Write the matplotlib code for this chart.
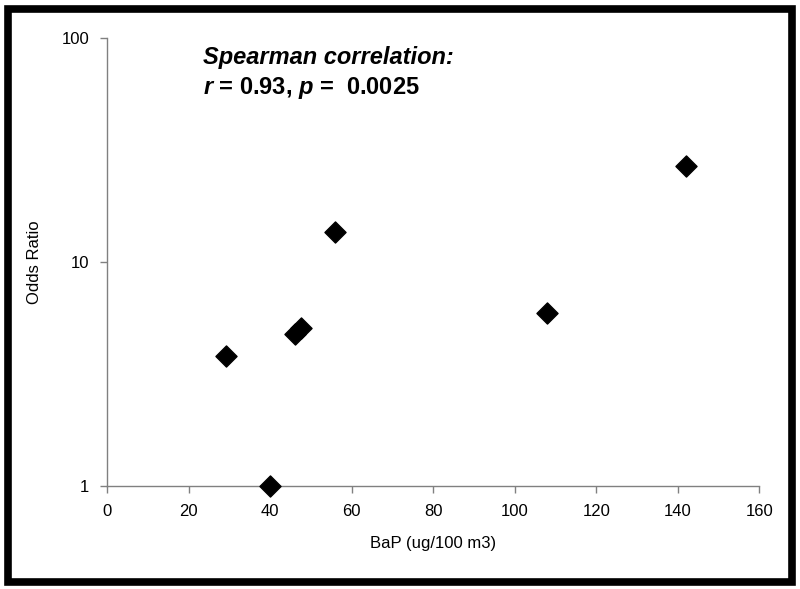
import matplotlib.pyplot as plt
from matplotlib.patches import Rectangle

plt.rcParams['font.family'] = ['Liberation Sans', 'DejaVu Sans']
plt.rcParams['mathtext.fontset'] = 'custom'
plt.rcParams['mathtext.bfit'] = 'Liberation Sans:bold:italic'
plt.rcParams['mathtext.rm'] = 'Liberation Sans:bold'

bap = [29.2, 40, 46, 47.5, 56, 108, 142]
odds_ratio = [3.8, 1.0, 4.75, 5.1, 13.7, 5.95, 27]
x_ticks = [0, 20, 40, 60, 80, 100, 120, 140, 160]
y_ticks = [1, 10, 100]

fig = plt.figure(figsize=(8, 5.89), dpi=100)
ax = fig.add_axes([0.134, 0.175, 0.815, 0.76])

ax.scatter(bap, odds_ratio, marker='D', s=115, color='black', zorder=3, clip_on=False)

ax.set_yscale('log')
ax.set_xlim(0, 160)
ax.set_ylim(1, 100)
ax.set_xticks(x_ticks)
ax.set_xticklabels([str(t) for t in x_ticks])
ax.set_yticks(y_ticks)
ax.set_yticklabels([str(t) for t in y_ticks])
ax.minorticks_off()

for side in ['top', 'right']:
    ax.spines[side].set_visible(False)
for side in ['left', 'bottom']:
    ax.spines[side].set_color('#808080')
    ax.spines[side].set_linewidth(1)
ax.tick_params(colors='black', labelsize=12, length=5, width=1, color='#808080', pad=8)

ax.set_xlabel('BaP (ug/100 m3)', fontsize=12, labelpad=12)
ax.set_ylabel('Odds Ratio', fontsize=12, labelpad=14)

fig.text(0.254, 0.902, 'Spearman correlation:', fontsize=17, fontweight='bold',
         style='italic', va='center')
fig.text(0.254, 0.851, r'$\mathbfit{r}$ = 0.93, $\mathbfit{p}$ =  0.0025', fontsize=17,
         fontweight='bold', va='center')

fig.patches.append(Rectangle((0.0105, 0.0125), 0.979, 0.973, transform=fig.transFigure,
                             fill=False, edgecolor='black', linewidth=5.5))

fig.savefig('out.png', dpi=100)
